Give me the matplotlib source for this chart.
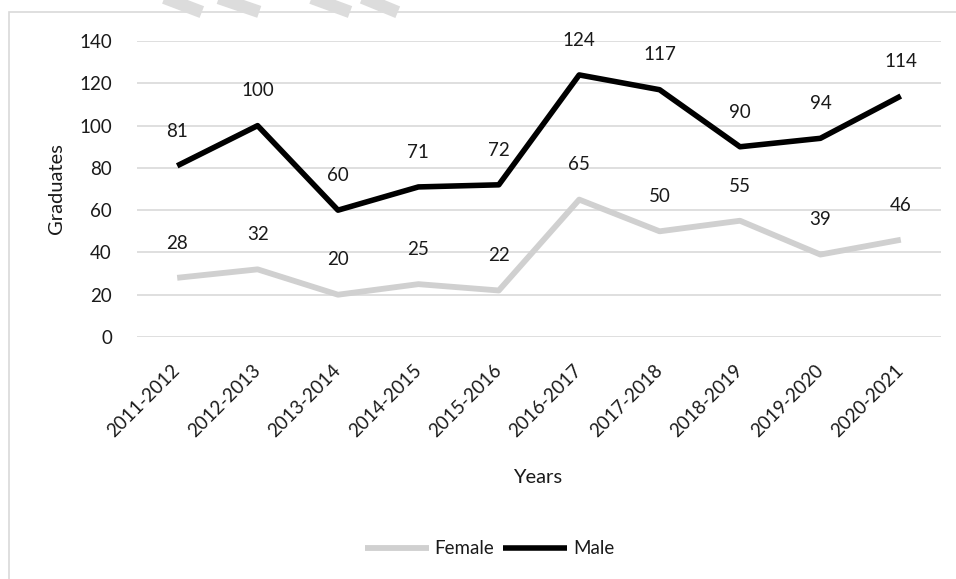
import matplotlib.pyplot as plt
from matplotlib.lines import Line2D
from matplotlib.patches import Rectangle

years = ["2011-2012", "2012-2013", "2013-2014", "2014-2015", "2015-2016",
         "2016-2017", "2017-2018", "2018-2019", "2019-2020", "2020-2021"]
female = [28, 32, 20, 25, 22, 65, 50, 55, 39, 46]
male = [81, 100, 60, 71, 72, 124, 117, 90, 94, 114]
y_ticks = [0, 20, 40, 60, 80, 100, 120, 140]

plt.rcParams["font.family"] = ["Lato", "DejaVu Sans"]
TXT = "#1a1a1a"
FS = 13.5

fig = plt.figure(figsize=(9.56, 5.79), dpi=100)
ax = fig.add_axes([0.1433, 0.418, 0.841, 0.511])

x = list(range(len(years)))
ax.plot(x, female, color="#d0d0d0", lw=4.2, solid_capstyle="butt",
        solid_joinstyle="round", label="Female", zorder=3)
ax.plot(x, male, color="black", lw=4.0, solid_capstyle="butt",
        solid_joinstyle="round", label="Male", zorder=4)

for series in (female, male):
    for xi, v in zip(x, series):
        ax.annotate(str(v), (xi, v), xytext=(0, 25), textcoords="offset points",
                    ha="center", va="center", fontsize=FS, color=TXT)

ax.set_xlim(-0.5, len(years) - 0.5)
ax.set_ylim(0, 140)
ax.set_yticks(y_ticks)
ax.set_xticks(x)
ax.set_xticklabels(years, rotation=45, ha="right", va="center",
                   rotation_mode="anchor", fontsize=FS, color=TXT)
ax.tick_params(axis="x", length=0, pad=22)
ax.tick_params(axis="y", length=0, pad=18, labelsize=FS, labelcolor=TXT)
ax.grid(axis="y", color="#d9d9d9", lw=1.2)
ax.set_axisbelow(True)
for s in ax.spines.values():
    s.set_visible(False)

ax.set_ylabel("Graduates", fontsize=14.5, color=TXT, labelpad=10)
fig.text(0.562, 0.176, "Years", ha="center", va="center", fontsize=14.5, color=TXT)

ax.legend(loc="center", bbox_to_anchor=(0.512, 0.052), bbox_transform=fig.transFigure,
          ncol=2, frameon=False, fontsize=FS, handlelength=3.4,
          handletextpad=0.3, columnspacing=0.5, labelcolor=TXT)

# chart border
fig.patches.append(Rectangle((9 / 956, -0.1), 1.1, 1 - 12 / 579 + 0.1,
                             transform=fig.transFigure, fill=False,
                             edgecolor="#d9d9d9", lw=1.2))
# watermark strokes at top
for x0, x1 in [(0.178, 0.205), (0.235, 0.265), (0.332, 0.36), (0.385, 0.41)]:
    fig.lines.append(Line2D([x0, x1], [1.0, 0.983], transform=fig.transFigure,
                            color="#dcdcdc", lw=9))

fig.savefig("out.png", dpi=100)
